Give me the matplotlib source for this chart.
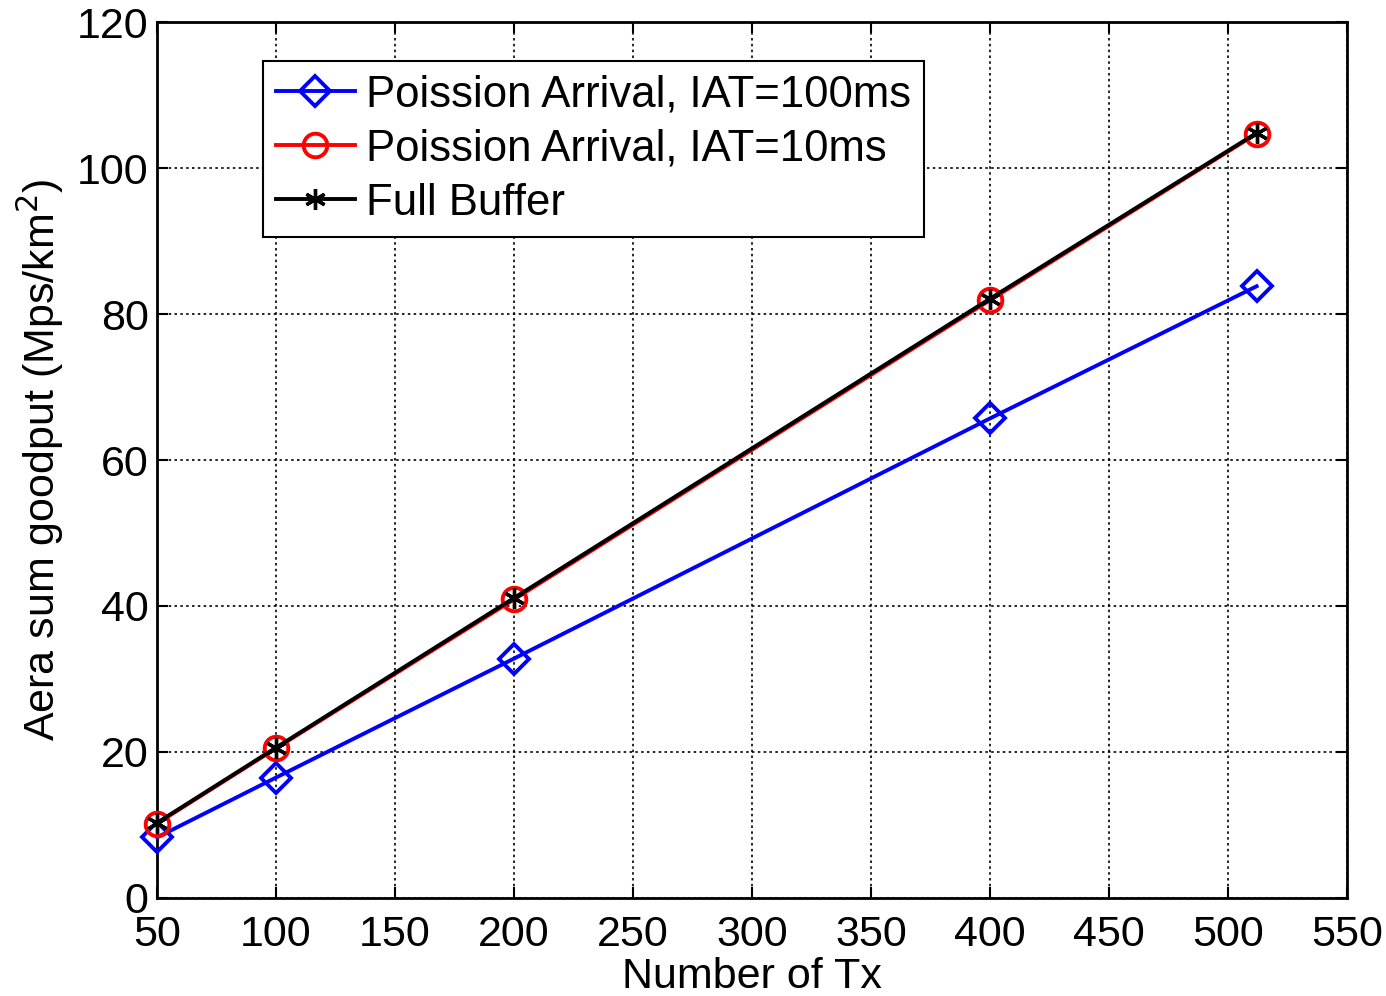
import numpy as np
import matplotlib.pyplot as plt

plt.rcParams['font.family'] = ['Liberation Sans', 'DejaVu Sans']

# data
num_tx = [50, 100, 200, 400, 512]
iat_100ms = [8.3, 16.5, 32.8, 65.7, 83.8]
iat_10ms = [10.2, 20.5, 40.9, 81.9, 104.7]
full_buffer = [10.3, 20.6, 41.1, 82.1, 104.8]
x_ticks = [50, 100, 150, 200, 250, 300, 350, 400, 450, 500, 550]
y_ticks = [0, 20, 40, 60, 80, 100, 120]

fig = plt.figure(figsize=(13.86, 9.96), dpi=100)
ax = fig.add_axes([0.1133, 0.0984, 0.8586, 0.8795])

asterisk = (6, 2, 0)
ax.plot(num_tx, iat_100ms, color='#0000ff', lw=2.8, marker='D', ms=15,
        mfc='none', mew=2.8, label='Poission Arrival, IAT=100ms', clip_on=False, zorder=3)
ax.plot(num_tx, iat_10ms, color='#ff0000', lw=2.8, marker='o', ms=17,
        mfc='none', mew=2.8, label='Poission Arrival, IAT=10ms', clip_on=False, zorder=3)
ax.plot(num_tx, full_buffer, color='black', lw=2.8, marker=asterisk, ms=15,
        mew=2.4, label='Full Buffer', clip_on=False, zorder=4)

ax.set_xlim(50, 550)
ax.set_ylim(0, 120)
ax.set_xticks(x_ticks)
ax.set_yticks(y_ticks)
ax.tick_params(direction='in', labelsize=31, length=8, width=1.5,
               top=True, right=True)
ax.tick_params(axis='x', pad=12)
ax.tick_params(axis='y', pad=6)
ax.grid(True, color='black', linestyle=(0, (1.5, 2)), linewidth=1.2)
for s in ax.spines.values():
    s.set_linewidth(2)

ax.set_xlabel('Number of Tx', fontsize=31, labelpad=2)
ax.set_ylabel('Aera sum goodput (Mps/km$^2$)', fontsize=31, labelpad=8)

leg = ax.legend(loc='upper left', bbox_to_anchor=(0.089, 0.955), fontsize=31.5,
                fancybox=False, framealpha=1, edgecolor='black',
                handlelength=1.8, handletextpad=0.25, borderpad=0.3,
                labelspacing=0.3, borderaxespad=0)
leg.get_frame().set_linewidth(1.5)

fig.savefig('out.png', dpi=100)
